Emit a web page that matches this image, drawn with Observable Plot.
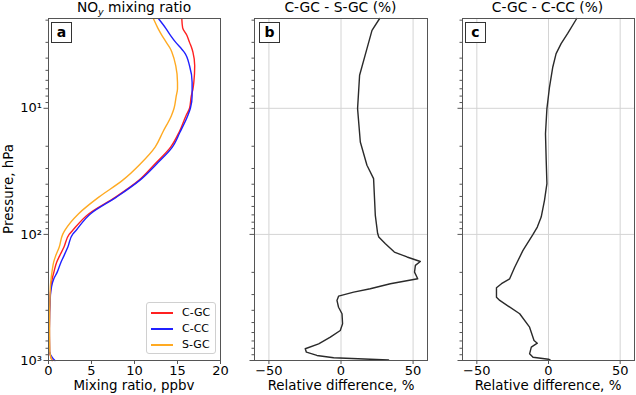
<!DOCTYPE html>
<html>
<head>
<meta charset="utf-8">
<script src="https://cdn.jsdelivr.net/npm/d3@7"></script>
<script src="https://cdn.jsdelivr.net/npm/@observablehq/plot@0.6"></script>
<style>
  html, body { margin: 0; padding: 0; background: #fff; }
  #wrap { position: relative; width: 636px; height: 395px; font-family: "DejaVu Sans", sans-serif; color: #000; overflow: hidden; }
  .abs { position: absolute; }
  .title { font-size: 13.8px; line-height: 13.8px; text-align: center; white-space: nowrap; }
  .xlabel { font-size: 13.4px; line-height: 13.4px; text-align: center; white-space: nowrap; }
  .plab { border: 1px solid #333; font-weight: bold; font-size: 14px; text-align: center; line-height: 19px; box-sizing: border-box; background: #fff; }
  .legend { border: 1px solid #d0d0d0; border-radius: 3px; background: rgba(255,255,255,0.85); box-sizing: border-box; }
  .legrow { position: absolute; left: 0; height: 14px; font-size: 11px; line-height: 14px; }
  .legline { position: absolute; left: 4px; top: 6px; width: 22px; height: 1.5px; }
  .legtxt { position: absolute; left: 35px; top: 0; white-space: nowrap; }
</style>
</head>
<body>
<div id="wrap"></div>
<script>
// ---------- data ----------
// Panel a: NOy mixing ratio profiles (ppbv) vs pressure (hPa)
const pressureA = [1.95, 2.3, 2.65, 3.0, 3.4, 3.6, 4.6, 6.2, 7.0, 8.0, 10, 11.4, 15.4, 20.3, 27.5, 37.3, 50.6, 68.5, 93, 100, 126, 150, 166, 200, 225, 260, 305, 557, 850, 950, 1000];
const cgc = [15.5, 15.6, 16.1, 16.4, 16.7, 16.8, 17.0, 16.9, 16.8, 16.6, 16.4, 16.0, 15.2, 14.2, 12.4, 10.5, 7.8, 4.7, 2.8, 2.4, 1.8, 1.25, 0.95, 0.62, 0.43, 0.3, 0.2, 0.1, 0.12, 0.3, 0.45];
const ccc = [12.8, 13.6, 14.2, 14.8, 15.5, 15.8, 16.4, 16.7, 16.7, 16.7, 16.5, 16.2, 15.3, 14.4, 12.6, 10.6, 7.9, 4.9, 3.2, 2.8, 2.25, 1.75, 1.45, 1.0, 0.62, 0.35, 0.22, 0.1, 0.12, 0.45, 0.75];
const sgc = [12.2, 12.7, 13.2, 13.7, 14.2, 14.35, 14.8, 15.0, 15.0, 14.85, 14.6, 14.3, 13.3, 12.4, 10.7, 8.6, 5.85, 3.5, 1.9, 1.65, 1.25, 0.8, 0.6, 0.4, 0.3, 0.22, 0.18, 0.12, 0.15, 0.3, 0.4];
const seriesNames = ["C-GC", "C-CC", "S-GC"];
const seriesColors = ["#ff2020", "#2020ff", "#ffaa22"];

// Panel b: C-GC - S-GC relative difference (%)
const pressureB = [1.94, 2.41, 3.36, 5.47, 10.05, 18.5, 28.3, 36.1, 70.6, 98, 105, 118.5, 138, 151, 164, 176, 199, 225, 246, 270, 287, 309, 334, 378, 426, 511, 578, 653, 737, 807, 859, 912, 952, 990];
const diffB = [26.8, 21.5, 18.0, 12.9, 11.5, 13.4, 18.0, 22.6, 23.8, 25.4, 26.2, 30.8, 37, 45.8, 55, 51.6, 51, 53.2, 34.2, 20.3, 8.8, -1.7, -2.8, -1.7, 0.7, 1.1, -0.5, -7.4, -15.5, -24.8, -24, -16.7, -5.1, 33];

// Panel c: C-GC - C-CC relative difference (%)
const pressureC = [1.94, 2.55, 3.07, 3.68, 4.70, 6.78, 10.05, 15.9, 25.9, 39.6, 53.7, 72.9, 87.5, 100, 134, 182, 225, 246, 265, 315, 334, 426, 544, 694, 729, 784, 885, 942, 977, 995];
const diffC = [19.7, 13.4, 8.8, 5.3, 3.0, 0.7, -1.1, -2.1, -1.6, -1.1, -2.8, -5.1, -7.8, -10.8, -17.8, -23.6, -27.1, -32.8, -36.3, -36.3, -34, -20.1, -13.2, -10.1, -7.8, -12, -13.2, -10.8, 0, 1.2];

// ticks
const xTicksA = [0, 5, 10, 15, 20];
const xTicksD = [-50, 0, 50];
const yMajor = [10, 100, 1000];
const yMajorLabels = ["10¹", "10²", "10³"];
const yMinor = [2, 3, 4, 5, 6, 7, 8, 9, 20, 30, 40, 50, 60, 70, 80, 90, 200, 300, 400, 500, 600, 700, 800, 900];
const yGrid = [10, 100];

// ---------- layout ----------
const wrap = document.getElementById("wrap");
const yDomain = [1.94, 1000];
const axisColor = "#555";
const fmtMinus = d => d < 0 ? "\u2212" + Math.abs(d) : String(d);

function place(el, left, top) {
  el.style.position = "absolute";
  el.style.left = left + "px";
  el.style.top = top + "px";
  wrap.appendChild(el);
}

function yAxes(withLabels) {
  return [
    Plot.axisY({ticks: yMinor, tickSize: 2.5, tickFormat: () => "", label: null, stroke: axisColor}),
    Plot.axisY({ticks: yMajor, tickSize: 4.5, tickPadding: 2, label: null, stroke: axisColor,
      tickFormat: withLabels ? (d => yMajorLabels[yMajor.indexOf(d)]) : (() => ""), fontSize: 13})
  ];
}

// Panel a
const tableA = pressureA.map((p, i) => ({p, cgc: cgc[i], ccc: ccc[i], sgc: sgc[i]}));
const plotA = Plot.plot({
  width: 230, height: 395,
  marginLeft: 48, marginRight: 10, marginTop: 18, marginBottom: 35,
  style: {fontFamily: "DejaVu Sans", fontSize: "13px", background: "transparent", overflow: "visible"},
  x: {domain: [0, 20]},
  y: {type: "log", domain: yDomain, reverse: true},
  marks: [
    ...yAxes(true),
    Plot.axisX({ticks: xTicksA, tickSize: 4, tickPadding: 1, label: null, stroke: axisColor, fontSize: 13}),
    Plot.line(tableA, {x: "cgc", y: "p", stroke: seriesColors[0], strokeWidth: 1.4, curve: "monotone-y"}),
    Plot.line(tableA, {x: "ccc", y: "p", stroke: seriesColors[1], strokeWidth: 1.4, curve: "monotone-y"}),
    Plot.line(tableA, {x: "sgc", y: "p", stroke: seriesColors[2], strokeWidth: 1.4, curve: "monotone-y"}),
    Plot.frame({stroke: axisColor})
  ]
});
place(plotA, 0, 0);

function diffPanel(pressure, diff, width, mLeft, mRight) {
  const table = pressure.map((p, i) => ({p, d: diff[i]}));
  return Plot.plot({
    width, height: 395,
    marginLeft: mLeft, marginRight: mRight, marginTop: 18, marginBottom: 35,
    style: {fontFamily: "DejaVu Sans", fontSize: "13px", background: "transparent", overflow: "visible"},
    x: {domain: [-60, 60]},
    y: {type: "log", domain: yDomain, reverse: true},
    marks: [
      Plot.gridX(xTicksD, {stroke: "#d4d4d4", strokeOpacity: 1, strokeWidth: 1}),
      Plot.gridY(yGrid, {stroke: "#d4d4d4", strokeOpacity: 1, strokeWidth: 1}),
      ...yAxes(false),
      Plot.axisX({ticks: xTicksD, tickSize: 4, tickPadding: 1, label: null, stroke: axisColor, tickFormat: fmtMinus, fontSize: 13}),
      Plot.line(table, {x: "d", y: "p", stroke: "#2a2a2a", strokeWidth: 1.4}),
      Plot.frame({stroke: axisColor})
    ]
  });
}
place(diffPanel(pressureB, diffB, 206, 24, 9), 230, 0);
place(diffPanel(pressureC, diffC, 200, 26, 2), 436, 0);

// ---------- text overlays ----------
function textDiv(cls, html, cx, top, w) {
  const d = document.createElement("div");
  d.className = "abs " + cls;
  d.innerHTML = html;
  d.style.left = (cx - w / 2) + "px";
  d.style.width = w + "px";
  d.style.top = top + "px";
  wrap.appendChild(d);
}
textDiv("title", "NO<sub style=\"font-size:9.5px;font-style:italic;vertical-align:-3px;line-height:0\">y</sub> mixing ratio", 134, 0.5, 200);
textDiv("title", "C-GC - S-GC (%)", 340.5, 0.5, 200);
textDiv("title", "C-GC - C-CC (%)", 547.5, 0.5, 200);
textDiv("xlabel", "Mixing ratio, ppbv", 134, 379, 200);
textDiv("xlabel", "Relative difference, %", 341, 379, 200);
textDiv("xlabel", "Relative difference, %", 548, 379, 200);

// y label (rotated)
const ns = "http://www.w3.org/2000/svg";
const ysvg = document.createElementNS(ns, "svg");
ysvg.setAttribute("width", "20"); ysvg.setAttribute("height", "395");
const yt = document.createElementNS(ns, "text");
yt.setAttribute("transform", "translate(12.8,189) rotate(-90)");
yt.setAttribute("text-anchor", "middle");
yt.setAttribute("font-family", "DejaVu Sans");
yt.setAttribute("font-size", "13.4");
yt.textContent = "Pressure, hPa";
ysvg.appendChild(yt);
place(ysvg, 0, 0);

// panel letters
[["a", 51], ["b", 259], ["c", 465]].forEach(([t, x]) => {
  const d = document.createElement("div");
  d.className = "abs plab";
  d.textContent = t;
  d.style.left = x + "px"; d.style.top = "22px";
  d.style.width = "21px"; d.style.height = "21px";
  wrap.appendChild(d);
});

// legend
const leg = document.createElement("div");
leg.className = "abs legend";
leg.style.left = "146px"; leg.style.top = "302px";
leg.style.width = "70px"; leg.style.height = "52px";
seriesNames.forEach((name, i) => {
  const row = document.createElement("div");
  row.className = "legrow";
  row.style.top = (3 + i * 16) + "px";
  row.style.width = "68px";
  const ln = document.createElement("div");
  ln.className = "legline";
  ln.style.background = seriesColors[i];
  const tx = document.createElement("div");
  tx.className = "legtxt";
  tx.textContent = name;
  row.appendChild(ln); row.appendChild(tx);
  leg.appendChild(row);
});
wrap.appendChild(leg);
</script>
</body>
</html>
